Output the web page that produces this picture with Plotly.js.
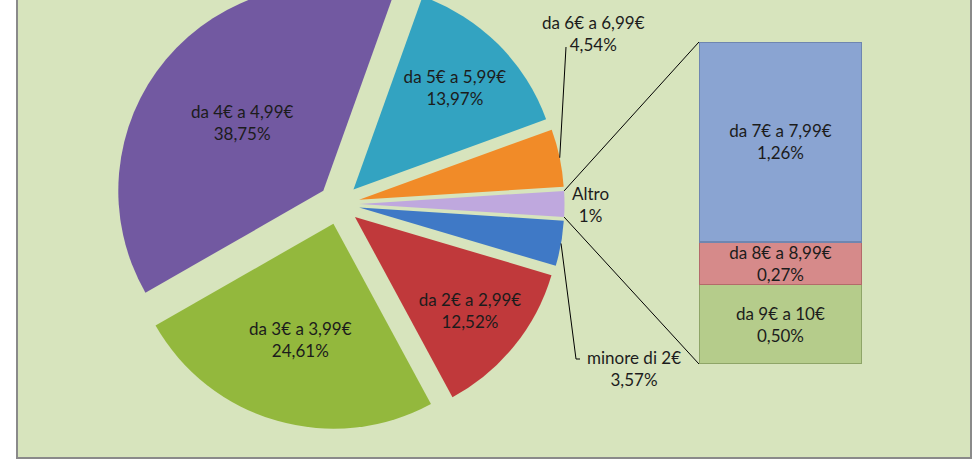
<!DOCTYPE html>
<html><head><meta charset="utf-8">
<script src="https://cdn.plot.ly/plotly-3.0.1.min.js"></script>
<style>
html,body{margin:0;padding:0;background:#fff;overflow:hidden;width:977px;height:464px;}
#frame{position:absolute;left:16px;top:-40px;width:952px;height:495px;border:2px solid #8a8a8a;}
#chart{width:952px;height:495px;}
</style></head><body>
<div id="frame"><div id="chart"></div></div>
<script>
// ---- data ----
const pieLabels = ["minore di 2€", "da 2€ a 2,99€", "da 3€ a 3,99€", "da 4€ a 4,99€", "da 5€ a 5,99€", "da 6€ a 6,99€"];
const pieValues = [3.57, 12.52, 24.61, 38.75, 13.97, 4.54];
const barLabels = ["da 9€ a 10€", "da 8€ a 8,99€", "da 7€ a 7,99€"];
const barValues = [0.50, 0.27, 1.26];
const otherLabel = "Altro";
const otherShown = "1%";

// ---- styling ----
const W = 952, H = 495;
const FONT = "Lato, 'Open Sans', sans-serif";
const FS = 17;
const TXT = "#1c1c1c";
const pieColors = ["#3f79c6", "#c0393b", "#93b83d", "#7259a1", "#33a3c1", "#f18b28"];
const otherColor = "#bfa8de";
const barColors = ["#b5cc8b", "#d68a8a", "#8aa4d2"];
const barLine = ["#8ea567", "#b36a6a", "#6f86b0"];
const pieDomX = [0.1003, 0.5741], pieDomY = [0.0556, 0.9667];
const barDomX = [0.7153, 0.8866], barDomY = [0.1879, 0.8384];
const pull = 0.1;

const fmt = v => v.toFixed(2).replace('.', ',') + '%';
const otherValue = barValues.reduce((a, b) => a + b, 0);
const allLabels = [otherLabel].concat(pieLabels);
const allValues = [otherValue].concat(pieValues);
const total = allValues.reduce((a, b) => a + b, 0);
const rotation = 90 - 180 * otherValue / total;

const pieText = allValues.map(fmt);
const textPos = allLabels.map((l, i) => (i === 0 || l === "minore di 2€" || l === "da 6€ a 6,99€") ? "none" : "inside");

const pie = {
  type: "pie", sort: false, direction: "clockwise", rotation: rotation,
  labels: allLabels, values: allValues, text: pieText,
  texttemplate: "%{label}<br>%{text}", textposition: textPos,
  insidetextorientation: "horizontal",
  textfont: {family: FONT, size: FS, color: TXT},
  pull: allValues.map(() => pull),
  marker: {colors: [otherColor].concat(pieColors), line: {width: 0}},
  domain: {x: pieDomX, y: pieDomY},
  showlegend: false, hoverinfo: "none"
};

const bars = barLabels.map((l, i) => ({
  type: "bar", x: [otherLabel], y: [barValues[i]], width: 1,
  text: [l + "<br>" + fmt(barValues[i])], texttemplate: "%{text}",
  textposition: "inside", insidetextanchor: "middle", constraintext: "none", textangle: 0,
  textfont: {family: FONT, size: FS, color: TXT},
  marker: {color: barColors[i], line: {color: barLine[i], width: 1.5}},
  showlegend: false, hoverinfo: "none"
}));

// ---- geometry derived from the pie settings (for connector / leader lines) ----
const boxW = W * (pieDomX[1] - pieDomX[0]), boxH = H * (pieDomY[1] - pieDomY[0]);
const R = Math.min(boxW, boxH) / 2 / (1 + pull);
const CX = W * (pieDomX[0] + pieDomX[1]) / 2;
const CY = H * (1 - pieDomY[0]) - boxH / 2;
const PX = x => x / W, PY = y => 1 - y / H;
let ang = rotation * Math.PI / 180;
const sl = allValues.map(v => { const a0 = ang; ang += 2 * Math.PI * v / total; return [a0, ang]; });
function apex(i) { const m = (sl[i][0] + sl[i][1]) / 2; return [CX + pull * R * Math.sin(m), CY - pull * R * Math.cos(m)]; }
function outer(i, a) { const p = apex(i); return [p[0] + R * Math.sin(a), p[1] - R * Math.cos(a)]; }
const oTop = outer(0, sl[0][0]), oBot = outer(0, sl[0][1]);
const barL = W * barDomX[0], barTop = H * (1 - barDomY[1]), barBot = H * (1 - barDomY[0]);
const iOrange = allLabels.indexOf("da 6€ a 6,99€"), iBlue = allLabels.indexOf("minore di 2€");
const oOr = outer(iOrange, (sl[iOrange][0] + sl[iOrange][1]) / 2);
const oBl = outer(iBlue, (sl[iBlue][0] + sl[iBlue][1]) / 2);

const ln = {color: "#000", width: 1};
const seg = (a, b) => ({type: "line", xref: "paper", yref: "paper", x0: PX(a[0]), y0: PY(a[1]), x1: PX(b[0]), y1: PY(b[1]), line: ln});
const shapes = [
  seg(oTop, [barL, barTop]),
  seg(oBot, [barL, barBot]),
  seg(oOr, [548, 85]),
  seg(oBl, [558, 397]),
  seg([558, 397], [562, 397])
];
const ann = (x, y, t) => ({xref: "paper", yref: "paper", x: PX(x), y: PY(y), text: t, showarrow: false,
  font: {family: FONT, size: FS, color: TXT}, xanchor: "center", yanchor: "middle", align: "center"});
const annotations = [
  ann(575, 71, allLabels[iOrange] + "<br>" + fmt(allValues[iOrange])),
  ann(572, 242, otherLabel + "<br>" + otherShown),
  ann(616, 406, allLabels[iBlue] + "<br>" + fmt(allValues[iBlue]))
];

const layout = {
  width: W, height: H, margin: {l: 0, r: 0, t: 0, b: 0},
  paper_bgcolor: "#d7e4bd", plot_bgcolor: "rgba(0,0,0,0)",
  barmode: "stack", bargap: 0,
  xaxis: {domain: barDomX, range: [-0.5, 0.5], visible: false, fixedrange: true, type: "category"},
  yaxis: {domain: barDomY, range: [0, otherValue], visible: false, fixedrange: true},
  shapes: shapes, annotations: annotations,
  font: {family: FONT}
};
Plotly.newPlot("chart", [pie].concat(bars), layout, {displayModeBar: false, staticPlot: true});
</script>
</body></html>
